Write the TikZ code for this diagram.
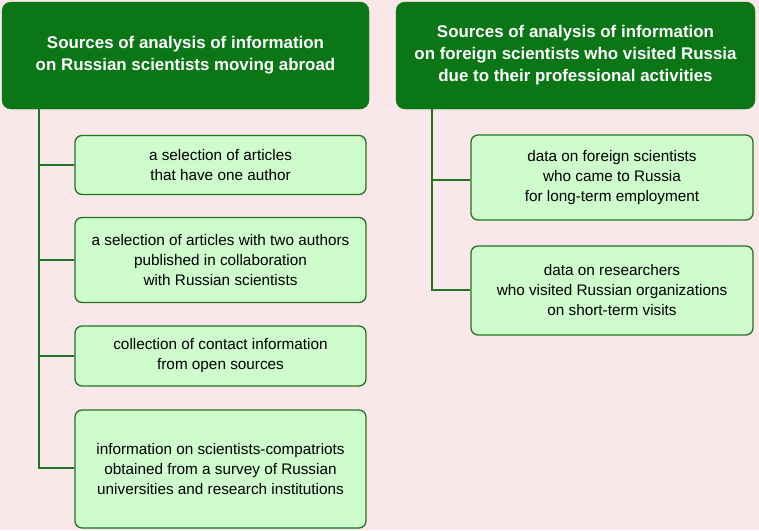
\documentclass[tikz,border=0pt]{standalone}
\usepackage{fontspec}
\setmainfont{Liberation Sans}
\definecolor{bgpink}{RGB}{250,231,233}
\definecolor{hdrgreen}{RGB}{10,118,22}
\definecolor{boxgreen}{RGB}{206,252,204}
\definecolor{linegreen}{RGB}{35,115,35}
\begin{document}
\begin{tikzpicture}[x=1pt,y=-1pt,
  hdr/.style={draw=hdrgreen,fill=hdrgreen,rounded corners=9pt,text=white,
    font=\fontsize{16.9}{22}\selectfont\bfseries,align=center,inner sep=0pt},
  item/.style={draw=linegreen,fill=boxgreen,line width=1.3pt,rounded corners=7pt,
    font=\fontsize{15.3}{20}\selectfont,align=center,inner sep=0pt},
  conn/.style={draw=linegreen,line width=1.8pt}]
\fill[bgpink] (0,0) rectangle (759,530);
\useasboundingbox (0,0) rectangle (759,530);

% left header
\node[hdr,minimum width=367pt,minimum height=107pt] (hl) at (185.5,55.5)
  {Sources of analysis of information\\on Russian scientists moving abroad};
% right header
\node[hdr,minimum width=359pt,minimum height=107pt] (hr) at (575.5,55.5)
  {Sources of analysis of information\\on foreign scientists who visited Russia\\due to their professional activities};

% left items
\node[item,minimum width=291pt,minimum height=59pt] (l1) at (220.5,165)
  {a selection of articles\\ that have one author};
\node[item,minimum width=291pt,minimum height=85pt] (l2) at (220.5,260)
  {a selection of articles with two authors\\published in collaboration\\with Russian scientists};
\node[item,minimum width=291pt,minimum height=60pt] (l3) at (220.5,356)
  {collection of contact information\\from open sources};
\node[item,minimum width=291pt,minimum height=118pt] (l4) at (220.5,469)
  {information on scientists-compatriots\\obtained from a survey of Russian\\universities and research institutions};

% right items
\node[item,minimum width=282pt,minimum height=85pt] (r1) at (612,177.5)
  {data on foreign scientists\\who came to Russia\\for long-term employment};
\node[item,minimum width=282pt,minimum height=89pt] (r2) at (612,290.5)
  {data on researchers\\who visited Russian organizations\\on short-term visits};

% connectors left
\coordinate (lt) at (39,109);
\coordinate (lb) at (39,468);
\draw[conn] (lt) -- (lb) -- (l4.west |- lb);
\draw[conn] (39,165) -- (l1.west);
\draw[conn] (39,260) -- (l2.west);
\draw[conn] (39,356) -- (l3.west);

% connectors right
\coordinate (rt) at (432,109);
\coordinate (rb) at (432,290);
\draw[conn] (rt) -- (rb) -- (r2.west |- rb);
\draw[conn] (432,180) -- (r1.west |- 432,180);
\end{tikzpicture}
\end{document}
